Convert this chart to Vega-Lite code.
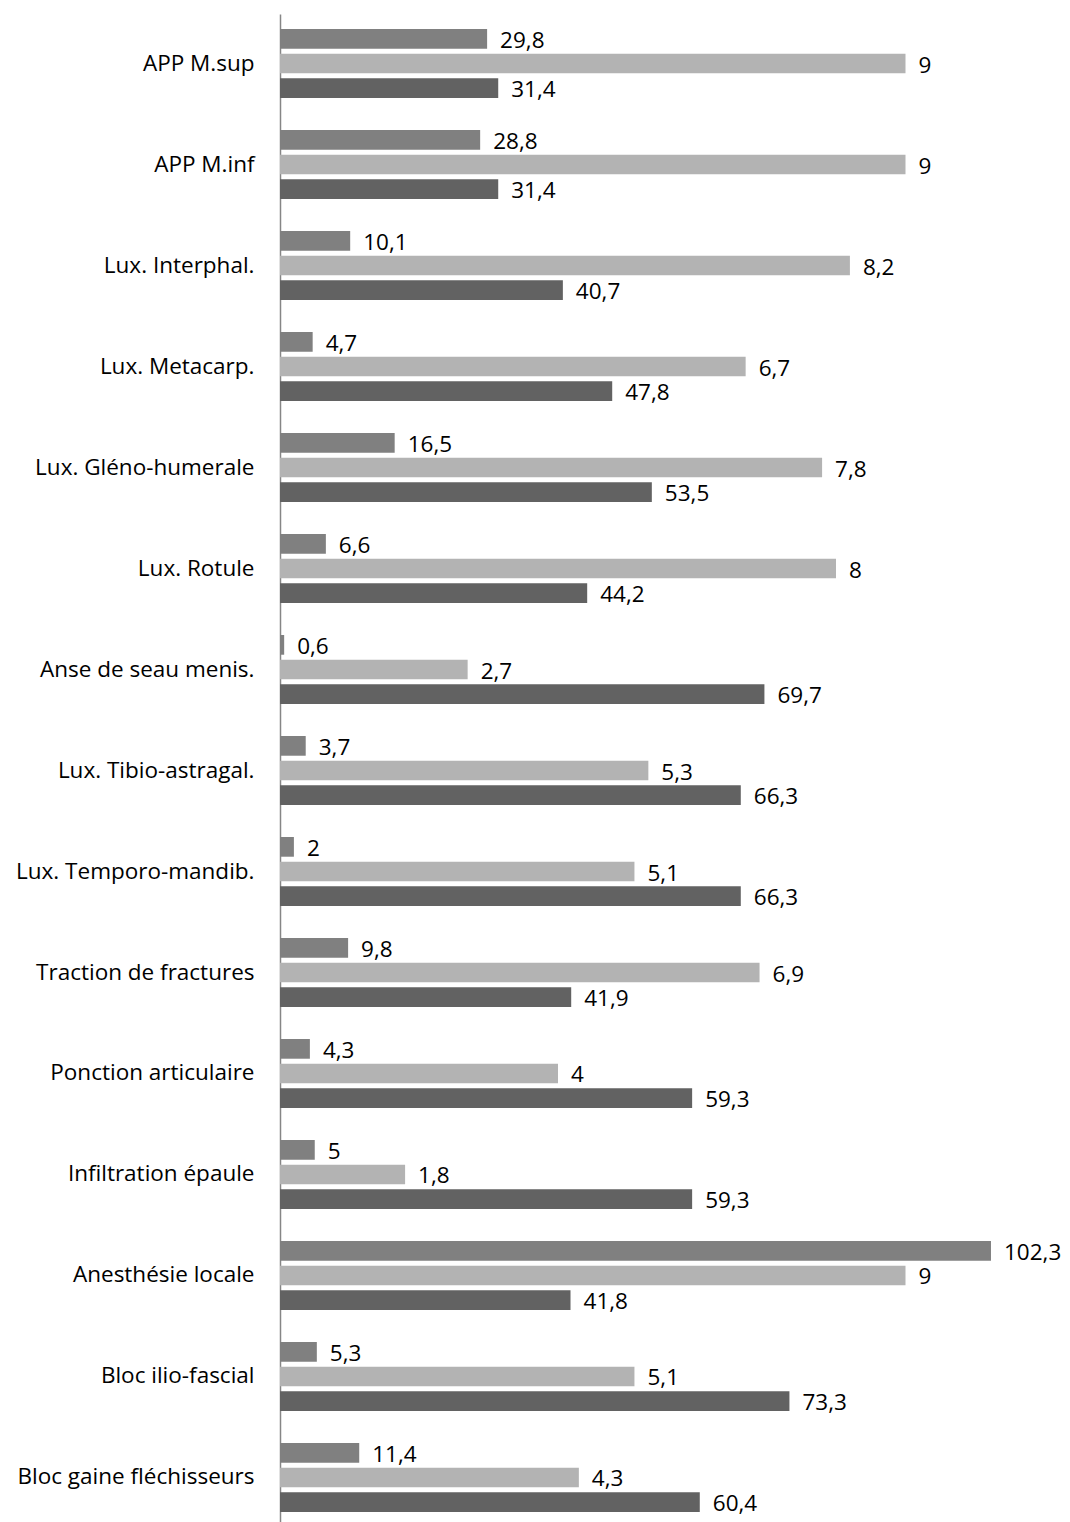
{
  "$schema": "https://vega.github.io/schema/vega-lite/v6.json",
  "width": 780,
  "height": 1508,
  "autosize": {"type": "none"},
  "padding": {"left": 280, "top": 14, "right": 10, "bottom": 0},
  "background": "white",
  "config": {
    "view": {"stroke": null},
    "locale": {"number": {"decimal": ",", "thousands": " ", "grouping": [3], "currency": ["", " €"]}},
    "font": "Open Sans"
  },
  "data": {
    "values": [
      {"cat": "APP M.sup", "series": "S1", "value": 29.8},
      {"cat": "APP M.sup", "series": "S2", "value": 9},
      {"cat": "APP M.sup", "series": "S3", "value": 31.4},
      {"cat": "APP M.inf", "series": "S1", "value": 28.8},
      {"cat": "APP M.inf", "series": "S2", "value": 9},
      {"cat": "APP M.inf", "series": "S3", "value": 31.4},
      {"cat": "Lux. Interphal.", "series": "S1", "value": 10.1},
      {"cat": "Lux. Interphal.", "series": "S2", "value": 8.2},
      {"cat": "Lux. Interphal.", "series": "S3", "value": 40.7},
      {"cat": "Lux. Metacarp.", "series": "S1", "value": 4.7},
      {"cat": "Lux. Metacarp.", "series": "S2", "value": 6.7},
      {"cat": "Lux. Metacarp.", "series": "S3", "value": 47.8},
      {"cat": "Lux. Gléno-humerale", "series": "S1", "value": 16.5},
      {"cat": "Lux. Gléno-humerale", "series": "S2", "value": 7.8},
      {"cat": "Lux. Gléno-humerale", "series": "S3", "value": 53.5},
      {"cat": "Lux. Rotule", "series": "S1", "value": 6.6},
      {"cat": "Lux. Rotule", "series": "S2", "value": 8},
      {"cat": "Lux. Rotule", "series": "S3", "value": 44.2},
      {"cat": "Anse de seau menis.", "series": "S1", "value": 0.6},
      {"cat": "Anse de seau menis.", "series": "S2", "value": 2.7},
      {"cat": "Anse de seau menis.", "series": "S3", "value": 69.7},
      {"cat": "Lux. Tibio-astragal.", "series": "S1", "value": 3.7},
      {"cat": "Lux. Tibio-astragal.", "series": "S2", "value": 5.3},
      {"cat": "Lux. Tibio-astragal.", "series": "S3", "value": 66.3},
      {"cat": "Lux. Temporo-mandib.", "series": "S1", "value": 2},
      {"cat": "Lux. Temporo-mandib.", "series": "S2", "value": 5.1},
      {"cat": "Lux. Temporo-mandib.", "series": "S3", "value": 66.3},
      {"cat": "Traction de fractures", "series": "S1", "value": 9.8},
      {"cat": "Traction de fractures", "series": "S2", "value": 6.9},
      {"cat": "Traction de fractures", "series": "S3", "value": 41.9},
      {"cat": "Ponction articulaire", "series": "S1", "value": 4.3},
      {"cat": "Ponction articulaire", "series": "S2", "value": 4},
      {"cat": "Ponction articulaire", "series": "S3", "value": 59.3},
      {"cat": "Infiltration épaule", "series": "S1", "value": 5},
      {"cat": "Infiltration épaule", "series": "S2", "value": 1.8},
      {"cat": "Infiltration épaule", "series": "S3", "value": 59.3},
      {"cat": "Anesthésie locale", "series": "S1", "value": 102.3},
      {"cat": "Anesthésie locale", "series": "S2", "value": 9},
      {"cat": "Anesthésie locale", "series": "S3", "value": 41.8},
      {"cat": "Bloc ilio-fascial", "series": "S1", "value": 5.3},
      {"cat": "Bloc ilio-fascial", "series": "S2", "value": 5.1},
      {"cat": "Bloc ilio-fascial", "series": "S3", "value": 73.3},
      {"cat": "Bloc gaine fléchisseurs", "series": "S1", "value": 11.4},
      {"cat": "Bloc gaine fléchisseurs", "series": "S2", "value": 4.3},
      {"cat": "Bloc gaine fléchisseurs", "series": "S3", "value": 60.4}
    ]
  },
  "encoding": {
    "y": {
      "field": "cat",
      "type": "nominal",
      "sort": null,
      "scale": {"paddingInner": 0.317, "paddingOuter": 0.124, "align": 0.6},
      "axis": {
        "title": null,
        "ticks": false,
        "domainColor": "#868686",
        "domainWidth": 1.5,
        "labelFontSize": 22.5,
        "labelColor": "#000000",
        "labelPadding": 26,
        "labelFont": "Open Sans",
        "labelLimit": 300
      }
    },
    "yOffset": {
      "field": "series",
      "type": "nominal",
      "scale": {"domain": ["S1", "S2", "S3"], "paddingInner": 0.2, "paddingOuter": 0}
    },
    "color": {
      "field": "series",
      "type": "nominal",
      "scale": {"domain": ["S1", "S2", "S3"], "range": ["#808080", "#b3b3b3", "#626262"]},
      "legend": null
    }
  },
  "layer": [
    {
      "transform": [{"filter": "datum.series !== 'S2'"}],
      "encoding": {
        "x": {"field": "value", "type": "quantitative", "scale": {"domain": [0, 112.23], "nice": false, "zero": true}, "axis": null}
      },
      "layer": [
        {"mark": {"type": "bar"}},
        {"mark": {"type": "text", "align": "left", "baseline": "middle", "dx": 13, "dy": 2, "fontSize": 22.5, "font": "Open Sans", "color": "#000000"},
         "encoding": {"text": {"field": "value", "type": "quantitative", "format": ".4~r"}, "color": {"value": "#000000"}}}
      ]
    },
    {
      "transform": [{"filter": "datum.series === 'S2'"}],
      "encoding": {
        "x": {"field": "value", "type": "quantitative", "scale": {"domain": [0, 11.223], "nice": false, "zero": true}, "axis": null}
      },
      "layer": [
        {"mark": {"type": "bar"}},
        {"mark": {"type": "text", "align": "left", "baseline": "middle", "dx": 13, "dy": 2, "fontSize": 22.5, "font": "Open Sans", "color": "#000000"},
         "encoding": {"text": {"field": "value", "type": "quantitative", "format": ".4~r"}, "color": {"value": "#000000"}}}
      ]
    }
  ],
  "resolve": {"scale": {"x": "independent"}}
}
